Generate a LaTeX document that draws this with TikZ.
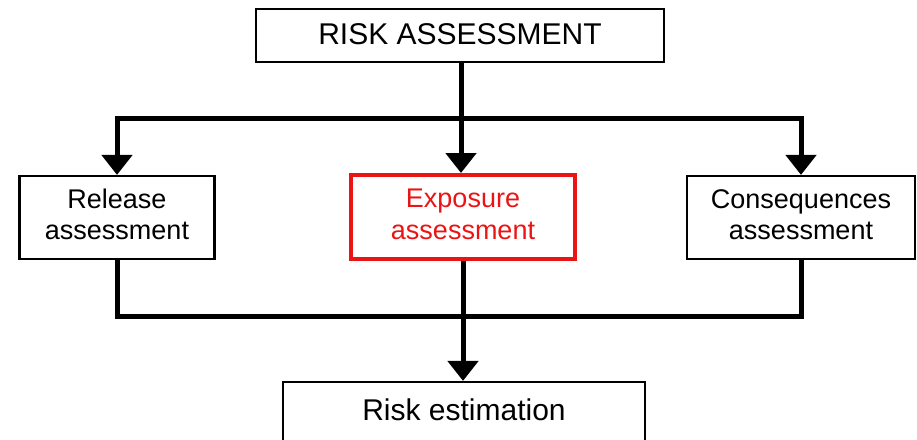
\documentclass[tikz,border=0pt]{standalone}
\usepackage{fontspec}
\setmainfont{Liberation Sans}
\usetikzlibrary{arrows.meta}
\definecolor{boxred}{RGB}{235,20,20}
\newcommand{\twolines}[2]{\raisebox{3pt}{\begin{tabular}{@{}c@{}}#1\\#2\end{tabular}}}
\tikzset{
  box/.style={draw=black, line width=2.2pt, inner sep=0pt, align=center},
  bigtext/.style={font=\fontsize{30}{34}\selectfont},
  smalltext/.style={font=\fontsize{27}{31.5}\selectfont},
  flow/.style={line width=5pt, line join=miter},
  flowarrow/.style={flow, -{Triangle[width=30pt,length=20pt]}},
}
\begin{document}
\begin{tikzpicture}[x=1pt,y=-1pt]
  \useasboundingbox (0,0) rectangle (917,439);
  % boxes
  \node[box, bigtext, minimum width=408pt, minimum height=53pt] (risk) at (460,35.5) {\raisebox{2pt}{RISK ASSESSMENT}};
  \node[box, smalltext, minimum width=195pt, minimum height=83pt] (release) at (117,217.5) {\twolines{Release}{assessment}};
  \node[box, smalltext, draw=boxred, text=boxred, line width=4pt, minimum width=224pt, minimum height=84pt] (exposure) at (463,217) {\twolines{Exposure}{assessment}};
  \node[box, smalltext, minimum width=228pt, minimum height=83pt] (conseq) at (801,217.5) {\twolines{Consequences}{assessment}};
  \node[box, bigtext, minimum width=362pt, minimum height=64pt, text depth=0pt] (estim) at (464,414) {\raisebox{9pt}{Risk estimation}};
  % branch points
  \coordinate (split) at (461,118);
  \coordinate (join) at (463,316);
  % top distribution
  \draw[flow] (risk.south -| split) -- (split);
  \draw[flowarrow] (split) -| (release.north);
  \draw[flowarrow] (split) -| (conseq.north);
  \draw[flowarrow] (split) -- (exposure.north -| split);
  % collection to the estimation
  \draw[flow] (release.south) |- (join);
  \draw[flow] (conseq.south) |- (join);
  \draw[flowarrow] (exposure.south) -- (estim.north -| exposure.south);
\end{tikzpicture}
\end{document}
